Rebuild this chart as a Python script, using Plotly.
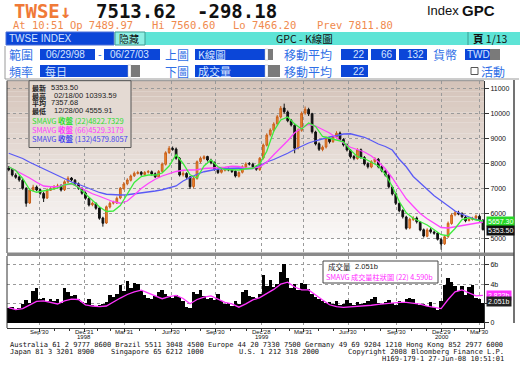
import plotly.graph_objects as go

W, H = 520, 372

# ---------------- data (weekly) ----------------
weeks = list(range(137))
open_ = [7820, 7760, 7530, 7460, 7330, 7000, 6420, 6930, 7060, 6950,
         6800, 6620, 6930, 6990, 7060, 7110, 6950, 7260, 7420, 7330,
         7190, 7000, 6820, 6600, 6350, 6400, 6220, 5820, 5620, 6260,
         6420, 6420, 6620, 7000, 7190, 7330, 7510, 7600, 7650, 7560,
         7650, 7670, 7590, 7460, 7690, 7970, 8440, 8600, 8580, 8200,
         7550, 7600, 7460, 7080, 7400, 8080, 8200, 8280, 8130, 8040,
         7760, 7650, 7730, 7800, 7730, 7690, 7490, 7650, 7860, 7990,
         7970, 7880, 7760, 8220, 8730, 9150, 9330, 9590, 9860, 10220,
         10060, 9720, 9530, 8620, 9330, 10020, 10160, 9990, 9260, 8790,
         8560, 8660, 9000, 8880, 9060, 9220, 8960, 8750, 8530, 8280,
         8200, 8550, 8240, 7990, 7860, 8080, 8170, 7880, 7700, 7550,
         7060, 6790, 6400, 6120, 5860, 5420, 5760, 5820, 5660, 5350,
         5090, 5350, 5260, 5220, 4960, 4790, 5080, 5600, 5950, 6020,
         5990, 5860, 5720, 5760, 5820, 5890, 5730]
high = [7900, 7820, 7610, 7520, 7380, 7060, 7020, 7150, 7120, 7000,
        6870, 7010, 7060, 7140, 7190, 7170, 7330, 7490, 7460, 7380,
        7240, 7050, 6880, 6650, 6480, 6450, 6260, 5870, 6320, 6480,
        6510, 6680, 7060, 7260, 7410, 7560, 7680, 7710, 7700, 7700,
        7740, 7720, 7640, 7740, 8040, 8490, 8700, 8680, 8640, 8260,
        7690, 7650, 7500, 7460, 8120, 8280, 8330, 8310, 8190, 8080,
        7810, 7800, 7860, 7840, 7790, 7720, 7690, 7930, 8050, 8060,
        8030, 7930, 8260, 8800, 9210, 9410, 9650, 9940, 10300, 10394,
        10120, 9780, 9600, 9400, 10080, 10280, 10230, 10030, 9310, 8850,
        8720, 9080, 9060, 9130, 9290, 9280, 9010, 8800, 8580, 8340,
        8610, 8600, 8300, 8050, 8130, 8250, 8220, 7930, 7760, 7600,
        7110, 6840, 6460, 6170, 5910, 5830, 5890, 5880, 5700, 5400,
        5410, 5420, 5320, 5260, 5010, 5130, 5680, 6000, 6100, 6110,
        6050, 5920, 5830, 5870, 5960, 5950, 5780]
low = [7690, 7480, 7390, 7270, 6950, 6270, 6380, 6880, 6890, 6750,
       6460, 6580, 6900, 6950, 7020, 6880, 6900, 7210, 7280, 7120,
       6950, 6750, 6550, 6280, 6290, 6150, 5750, 5474, 5580, 6200,
       6360, 6380, 6570, 6950, 7130, 7280, 7460, 7560, 7510, 7520,
       7600, 7520, 7420, 7420, 7640, 7920, 8380, 8510, 8150, 7480,
       7480, 7390, 6980, 7010, 7350, 8010, 8150, 8080, 7970, 7710,
       7580, 7600, 7680, 7690, 7620, 7440, 7440, 7600, 7800, 7920,
       7820, 7710, 7700, 8160, 8680, 9080, 9270, 9520, 9800, 10000,
       9650, 9480, 8410, 8560, 9270, 9950, 9900, 9200, 8720, 8500,
       8490, 8600, 8800, 8820, 9000, 8900, 8680, 8480, 8200, 8130,
       8150, 8190, 7920, 7800, 7810, 8020, 7810, 7650, 7480, 7000,
       6720, 6340, 6050, 5800, 5350, 5370, 5700, 5600, 5290, 5040,
       5050, 5200, 5150, 4920, 4556, 4740, 5020, 5550, 5890, 5930,
       5810, 5650, 5680, 5720, 5760, 5680, 5320]
close = [7750, 7540, 7450, 7340, 7010, 6410, 6940, 7050, 6940, 6810,
         6610, 6940, 6980, 7070, 7100, 6940, 7270, 7410, 7340, 7180,
         7010, 6810, 6610, 6340, 6410, 6210, 5810, 5610, 6270, 6410,
         6430, 6610, 7010, 7180, 7340, 7500, 7610, 7640, 7570, 7640,
         7680, 7580, 7470, 7680, 7980, 8430, 8610, 8570, 8210, 7540,
         7610, 7450, 7070, 7410, 8070, 8210, 8270, 8140, 8030, 7770,
         7640, 7740, 7790, 7740, 7680, 7500, 7640, 7870, 7980, 7980,
         7870, 7770, 8210, 8740, 9140, 9340, 9580, 9870, 10210, 10070,
         9710, 9540, 8610, 9340, 10010, 10170, 9980, 9270, 8780, 8570,
         8650, 9010, 8870, 9070, 9210, 8970, 8740, 8540, 8270, 8210,
         8540, 8250, 7980, 7870, 8070, 8180, 7870, 7710, 7540, 7070,
         6780, 6410, 6110, 5870, 5410, 5770, 5810, 5670, 5340, 5100,
         5340, 5270, 5210, 4970, 4780, 5070, 5610, 5940, 6030, 5980,
         5870, 5710, 5770, 5810, 5900, 5740, 5354]
volume_b = [1.5, 1.6, 1.4, 1.5, 1.9, 2.3, 2.0, 3.3, 3.6, 2.4,
            2.6, 2.2, 2.5, 2.2, 2.4, 2.0, 3.6, 3.2, 2.8, 2.9,
            2.4, 2.1, 2.0, 2.4, 1.8, 1.7, 1.8, 1.9, 2.1, 2.9,
            2.7, 3.0, 3.9, 3.3, 4.3, 3.6, 4.1, 4.0, 3.4, 2.9,
            2.6, 2.4, 2.8, 3.2, 3.4, 3.0, 2.8, 2.6, 2.9, 2.7,
            2.2, 1.6, 1.5, 3.2, 3.0, 3.4, 2.8, 2.4, 2.6, 2.3,
            3.0, 2.2, 1.9, 2.0, 1.7, 2.2, 1.9, 3.2, 3.4, 2.8,
            2.7, 2.6, 3.0, 4.9, 3.8, 4.4, 3.7, 4.0, 5.3, 6.1,
            4.6, 3.6, 4.0, 3.4, 4.1, 4.0, 3.5, 3.0, 2.7, 2.5,
            2.2, 2.0, 2.1, 1.9, 2.2, 1.8, 1.9, 2.3, 2.0, 1.8,
            2.1, 1.9, 2.0, 2.2, 2.4, 2.7, 2.0, 1.9, 2.1, 2.3,
            2.0, 1.8, 2.2, 2.0, 2.5, 2.6, 2.4, 2.0, 1.8, 1.9,
            1.7, 2.1, 1.6, 1.3, 2.2, 3.9, 4.6, 4.2, 3.8, 3.3,
            3.8, 2.9, 3.7, 3.9, 2.6, 2.4, 2.051]

ma_weeks = list(range(0, 137, 2))
sma22 = [7870, 7720, 7400, 6950, 6850, 6900, 6960, 7010, 7150, 7200,
         7040, 6780, 6500, 6270, 6080, 6100, 6320, 6800, 7240, 7480,
         7540, 7540, 7620, 7900, 8350, 8000, 7550, 7420, 7900, 8140,
         7870, 7760, 7740, 7740, 7790, 7810, 7990, 8490, 9290, 9740,
         9860, 9580, 9380, 9620, 9480, 9080, 9010, 8950, 8870, 8540,
         8270, 8200, 8060, 7900, 7570, 7080, 6480, 6030, 5810, 5680,
         5540, 5350, 5150, 5110, 5400, 5760, 5830, 5740, 5700]
sma66 = [7870, 7730, 7580, 7420, 7250, 7100, 7070, 7070, 7150, 7180,
         7070, 6920, 6790, 6690, 6570, 6470, 6410, 6500, 6740, 7000,
         7200, 7370, 7500, 7600, 7680, 7730, 7740, 7750, 7800, 7810,
         7820, 7850, 7890, 7880, 7810, 7810, 7860, 8050, 8350, 8610,
         8910, 9230, 9420, 9570, 9500, 9360, 9220, 9030, 8820, 8650,
         8560, 8460, 8300, 8070, 7790, 7420, 7000, 6590, 6290, 6000,
         5790, 5600, 5440, 5420, 5470, 5530, 5580, 5620, 5660]
sma132 = [8410, 8310, 8200, 8050, 7920, 7770, 7640, 7520, 7390, 7260,
          7170, 7050, 6940, 6840, 6770, 6740, 6740, 6750, 6780, 6820,
          6860, 6900, 6950, 7010, 7100, 7300, 7450, 7570, 7670, 7740,
          7780, 7800, 7810, 7820, 7790, 7800, 7920, 8060, 8160, 8270,
          8410, 8560, 8690, 8820, 8910, 8990, 9060, 9110, 9180, 9190,
          9130, 9050, 8920, 8780, 8680, 8540, 8170, 7870, 7480, 7220,
          6930, 6710, 6510, 6310, 6100, 5970, 5860, 5760, 5690]
vol_sma22 = [1.55, 1.35, 1.45, 1.85, 2.20, 2.26, 2.10, 1.93, 2.25, 2.43,
             2.40, 1.85, 1.72, 1.66, 1.72, 2.18, 2.55, 2.92, 3.20, 3.37,
             3.10, 2.80, 2.48, 2.70, 2.82, 2.50, 1.95, 2.40, 2.65, 2.78,
             2.40, 2.10, 1.95, 1.60, 1.95, 2.35, 2.60, 3.00, 3.45, 4.00,
             4.20, 3.70, 3.40, 3.40, 2.85, 2.35, 1.85, 1.65, 1.58, 1.62,
             1.66, 1.72, 1.80, 1.90, 1.98, 2.07, 2.09, 2.09, 2.00, 1.91,
             1.72, 1.56, 1.45, 2.40, 3.20, 3.40, 3.05, 2.78, 2.82]

x_tick_pos = [8.7, 21.6, 33.1, 46.6, 59.2, 72.6, 84.4, 97.3, 111.3, 124.2, 135.1]
x_tick_labels = ["Sep'30", "Dec'31", "Mar'31", "Jun'30", "Sep'30",
                 "Dec'28", "Mar'31", "Jun'30", "Sep'30", "Dec'29", "Mar'30"]
year_labels = ["", "1998", "", "", "", "1999", "", "", "", "2000", ""]
price_ticks = [5000, 6000, 7000, 8000, 9000, 10000, 11000]
price_tick_labels = ["5000", "6000", "7000", "8000", "9000", "10000", "11000"]
vol_ticks = [0, 2, 4, 6]
vol_tick_labels = ["0", "", "4b", "6b"]

# ---------------- styling helpers ----------------
CJK = "Noto Sans CJK TC"
SANS = "Liberation Sans"
MONO = "DejaVu Sans Mono"
BLUE = "#0b46d8"
LBL = "#2f6fe6"
LT = "#d4e4ff"
GRID = "#9a9a9a"

shapes = []
annotations = []


def rect(x0, y0, x1, y1, fill, line=None, lw=1, layer="above"):
    shapes.append(dict(type="rect", xref="paper", yref="paper",
                       x0=x0 / W, x1=x1 / W, y0=1 - y1 / H, y1=1 - y0 / H,
                       fillcolor=fill,
                       line=dict(color=line if line else fill, width=lw if line else 0),
                       layer=layer))


def hline(x0, x1, y, color, w=1):
    shapes.append(dict(type="line", xref="paper", yref="paper", x0=x0 / W, x1=x1 / W,
                       y0=1 - y / H, y1=1 - y / H, line=dict(color=color, width=w)))


def vline(x, y0, y1, color, w=1):
    shapes.append(dict(type="line", xref="paper", yref="paper", x0=x / W, x1=x / W,
                       y0=1 - y0 / H, y1=1 - y1 / H, line=dict(color=color, width=w)))


def text(x, y, s, size=10, color="black", family=SANS, xanchor="left", bg=None):
    a = dict(xref="paper", yref="paper", x=x / W, y=1 - y / H, text=s, showarrow=False,
             xanchor=xanchor, yanchor="middle", borderpad=0,
             font=dict(size=size, color=color, family=family))
    if bg:
        a["bgcolor"] = bg
        a["borderpad"] = 1
    annotations.append(a)


# ---------------- header ----------------
text(13, 11, "<b>TWSE↓</b>", 19, "#f07a38", MONO)
text(95, 11, "<b>7513.62</b>", 19, "#111", MONO)
text(196, 11, "<b>-298.18</b>", 19, "#111", MONO)
text(426, 11, "Index", 13, "#111", SANS)
text(461, 11, "<b>GPC</b>", 15, "#111", SANS)
orange2 = "#f08a4e"
text(12, 25, "At 10:51 Op 7489.97", 10.5, orange2, MONO)
text(151, 25, "Hi 7560.60", 10.5, orange2, MONO)
text(232, 25, "Lo 7466.20", 10.5, orange2, MONO)
text(316, 25, "Prev 7811.80", 10.5, orange2, MONO)

# row 2
rect(145, 32, 520, 45, "#5ee4d6")
rect(6, 32, 114, 45, BLUE, "#4a6fd8")
text(8, 38.5, "TWSE INDEX", 10, LT, SANS)
rect(115, 32, 145, 45, "#8ef0e4", "#3d9c92")
text(118, 38.5, "隐藏", 10, "#111", CJK)
text(275, 38.5, "GPC - K線圖", 10.5, "#111", CJK)
vline(468, 32, 45, "#3d9c92")
text(472, 38.5, "<b>頁</b> 1/13", 10.5, "#111", CJK)

# rows 3, 4 frame
vline(5, 46, 79, "#9a9a9a")
hline(5, 519, 79, "#9a9a9a")

y3, y4 = 54.5, 71
text(8, y3, "範圍", 12, LBL, CJK)
rect(40, 49, 95, 60, BLUE)
text(45, y3, "06/29/98", 10, LT, SANS)
text(97, y3, "-", 11, LBL, SANS)
rect(104, 49, 160, 60, BLUE)
text(109, y3, "06/27/03", 10, LT, SANS)
text(164, y3, "上圖", 12, LBL, CJK)
rect(195, 49, 265, 60, BLUE)
text(197, y3, "K線圖", 10.5, LT, CJK)
rect(265, 49, 268, 60, "white", "#bbbbbb", 0.5)
rect(268, 49, 273, 60, "#7a7a7a")
text(283, y3, "移動平均", 12, LBL, CJK)
rect(341, 49, 368, 60, BLUE)
text(366, y3, "22", 10, LT, SANS, "right")
rect(371, 49, 396, 60, BLUE)
text(394, y3, "66", 10, LT, SANS, "right")
rect(399, 49, 427, 60, BLUE)
text(425, y3, "132", 10, LT, SANS, "right")
text(432, y3, "貨幣", 12, LBL, CJK)
rect(465, 49, 490, 60, BLUE)
text(466, y3, "TWD", 10, LT, SANS)
rect(490, 49, 500, 60, "#7a7a7a")

text(8, y4, "頻率", 12, LBL, CJK)
rect(40, 65, 128, 77, BLUE)
text(44, y4, "每日", 11, LT, CJK)
rect(128, 65, 131, 77, "white", "#bbbbbb", 0.5)
rect(131, 65, 140, 77, "#7a7a7a")
text(164, y4, "下圖", 12, LBL, CJK)
rect(195, 65, 265, 77, BLUE)
text(197, y4, "成交量", 11, LT, CJK)
rect(265, 65, 268, 77, "white", "#bbbbbb", 0.5)
rect(268, 65, 280, 77, "#7a7a7a")
text(283, y4, "移動平均", 12, LBL, CJK)
rect(341, 65, 368, 77, BLUE)
text(366, y4, "22", 10, LT, SANS, "right")
rect(471, 67.5, 478, 74.5, "white", "#555", 1)
text(480, y4, "活動", 12, LBL, CJK)

# ---------------- main chart background gradient ----------------
top_c = (212, 195, 185)
bot_c = (250, 248, 247)
n = 30
y_lo, y_hi = 5000, 11312
for k in range(n):
    t = (k + 0.5) / n
    c = tuple(round(bot_c[j] + (top_c[j] - bot_c[j]) * t) for j in range(3))
    shapes.append(dict(type="rect", xref="paper", yref="y",
                       x0=7 / W, x1=484 / W,
                       y0=y_lo + (y_hi - y_lo) * k / n, y1=y_lo + (y_hi - y_lo) * (k + 1) / n,
                       fillcolor="rgb(%d,%d,%d)" % c, line=dict(width=0), layer="below"))

# frames
vline(7, 80.7, 253, "#333")
hline(7, 484, 80.7, "#888")
rect(7, 252.5, 514, 256, "#8a8a8a")
vline(7, 256, 328, "#333")
vline(514, 80, 323, "#444", 1.5)

# legend box in main chart
rect(29, 80.7, 131, 147.5, "rgb(228,218,211)", "#555", 1)
text(31, 87.5, "<b>最新</b>", 7, "#222", CJK)
text(50, 87.5, "5353.50", 7.5, "#222", SANS)
text(31, 95.5, "<b>最高</b>", 7, "#222", CJK)
text(53, 95.5, "02/18/00 10393.59", 7.5, "#222", SANS)
text(31, 103, "<b>平均</b>", 7, "#222", CJK)
text(50, 103, "7357.68", 7.5, "#222", SANS)
text(31, 110.5, "<b>最低</b>", 7, "#222", CJK)
text(53, 110.5, "12/28/00 4555.91", 7.5, "#222", SANS)
text(31, 120.5, "SMAVG <b>收盤</b> (22)4822.7329", 7.5, "#2fdc2f", CJK)
text(31, 129.5, "SMAVG <b>收盤</b> (66)4529.3179", 7.5, "#ff3cff", CJK)
text(31, 138.5, "SMAVG <b>收盤</b> (132)4579.8057", 7.5, "#4848f0", CJK)

# right value tags
text(486, 221, "5657.30", 7, "white", SANS, bg="#26d926")
text(486, 230, "5353.50", 7, "white", SANS, bg="#111111")
text(486, 295, "2.822b", 7, "white", SANS, bg="#ff33ff")
text(486, 301.5, "2.051b", 7, "white", SANS, bg="#222222")

# volume legend box
rect(323, 261, 438, 283, "white", "#444", 1)
text(327, 266.5, "成交量", 7.5, "#222", CJK)
text(354, 266.5, "2.051b", 7.5, "#222", SANS)
text(325, 277, "SMAVG 成交量柱狀圖 (22) 4.590b", 7.2, "#ff2cff", CJK)

# x-axis labels (placed on the volume panel's x scale)
for pos, lab, yr in zip(x_tick_pos, x_tick_labels, year_labels):
    annotations.append(dict(xref="x2", yref="paper", x=pos, y=1 - 331.5 / H, text=lab,
                            showarrow=False, xanchor="center", yanchor="middle", borderpad=0,
                            font=dict(size=6, color="#111", family=SANS)))
    if yr:
        annotations.append(dict(xref="x2", yref="paper", x=pos, y=1 - 337 / H, text=yr,
                                showarrow=False, xanchor="center", yanchor="middle", borderpad=0,
                                font=dict(size=6, color="#111", family=SANS)))

# footer
text(9, 344.5, "Australia 61 2 9777 8600 Brazil 5511 3048 4500 Europe 44 20 7330 7500 Germany 49 69 9204 1210 Hong Kong 852 2977 6000", 7, "#111", MONO)
text(9, 352, "Japan 81 3 3201 8900", 7, "#111", MONO)
text(110, 352, "Singapore 65 6212 1000", 7, "#111", MONO)
text(238, 352, "U.S. 1 212 318 2000", 7, "#111", MONO)
text(505, 352, "Copyright 2008 Bloomberg Finance L.P.", 7, "#111", MONO, "right")
text(505, 359, "H169-179-1 27-Jun-08 10:51:01", 7, "#111", MONO, "right")

# minor (monthly) ticks between quarter ticks
minor_vals = []
for a, b in zip(x_tick_pos[:-1], x_tick_pos[1:]):
    minor_vals += [a + (b - a) / 3, a + 2 * (b - a) / 3]

# ---------------- traces ----------------
fig = go.Figure()
fig.add_trace(go.Candlestick(
    x=weeks, open=open_, high=high, low=low, close=close,
    xaxis="x", yaxis="y", whiskerwidth=0,
    increasing=dict(line=dict(color="#c8601c", width=1), fillcolor="#f58c2c"),
    decreasing=dict(line=dict(color="#111111", width=1), fillcolor="#111111"),
    hoverinfo="skip"))
fig.add_trace(go.Scatter(x=ma_weeks, y=sma132, mode="lines", xaxis="x", yaxis="y",
                         line=dict(color="#5a5af5", width=1.3), hoverinfo="skip"))
fig.add_trace(go.Scatter(x=ma_weeks, y=sma66, mode="lines", xaxis="x", yaxis="y",
                         line=dict(color="#ff44ff", width=1.3), hoverinfo="skip"))
fig.add_trace(go.Scatter(x=ma_weeks, y=sma22, mode="lines", xaxis="x", yaxis="y",
                         line=dict(color="#3cec3c", width=1.3), hoverinfo="skip"))
fig.add_trace(go.Bar(x=weeks, y=volume_b, xaxis="x2", yaxis="y2",
                     marker=dict(color="black", line=dict(width=0)), hoverinfo="skip"))
fig.add_trace(go.Scatter(x=ma_weeks, y=vol_sma22, mode="lines", xaxis="x2", yaxis="y2",
                         line=dict(color="#ff33ff", width=1.3), hoverinfo="skip"))

xr = [-0.5, 136.3]
fig.update_layout(
    width=W, height=H, margin=dict(l=0, r=0, t=0, b=0, pad=0), autosize=False,
    paper_bgcolor="white", plot_bgcolor="white", showlegend=False, bargap=0.0,
    hovermode=False,
    xaxis=dict(domain=[7 / W, 484 / W], range=xr, anchor="y", tickmode="array",
               tickvals=x_tick_pos, showticklabels=False, ticks="", automargin=False,
               showgrid=True, gridcolor=GRID, griddash="dot", gridwidth=1,
               zeroline=False, showline=False, rangeslider=dict(visible=False)),
    yaxis=dict(domain=[1 - 253 / H, 1 - 80.7 / H], range=[4420, 11312], anchor="x",
               side="right", tickmode="array", tickvals=price_ticks, ticktext=price_tick_labels,
               ticks="outside", ticklen=4, tickcolor="#333", tickwidth=1, automargin=False,
               tickfont=dict(size=7, family=SANS, color="#111"),
               showgrid=True, gridcolor=GRID, griddash="dot", gridwidth=1,
               zeroline=False, showline=True, linecolor="#333", linewidth=1),
    xaxis2=dict(domain=[7 / W, 484 / W], range=xr, anchor="y2", tickmode="array",
                tickvals=x_tick_pos, showticklabels=False, automargin=False,
                ticks="outside", ticklen=3, tickcolor="#333",
                minor=dict(tickmode="array", tickvals=minor_vals, ticks="outside",
                           ticklen=2, tickcolor="#333", showgrid=False),
                showgrid=True, gridcolor=GRID, griddash="dot", gridwidth=1,
                zeroline=False, showline=True, linecolor="#333", linewidth=1),
    yaxis2=dict(domain=[1 - 328 / H, 1 - 256 / H], range=[-0.57, 6.93], anchor="x2",
                side="right", tickmode="array", tickvals=vol_ticks, ticktext=vol_tick_labels,
                ticks="outside", ticklen=4, tickcolor="#333", automargin=False,
                tickfont=dict(size=7, family=SANS, color="#111"),
                showgrid=True, gridcolor=GRID, griddash="dot", gridwidth=1,
                zeroline=False, showline=True, linecolor="#333", linewidth=1),
    shapes=shapes, annotations=annotations,
)

# the page's default 8px body margin would shift the 520x372 figure; remove it
fig.write_html("out.html",
               config={"displayModeBar": False, "staticPlot": True},
               post_script="document.body.style.margin='0';document.body.style.overflow='hidden';")
